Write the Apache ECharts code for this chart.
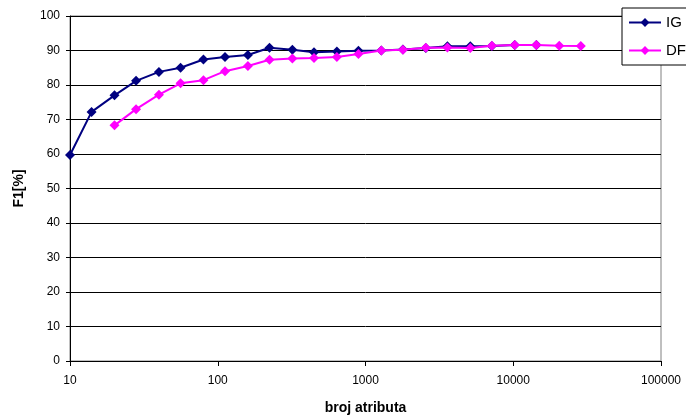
<!DOCTYPE html>
<html>
<head>
<meta charset="utf-8">
<script src="https://cdn.jsdelivr.net/npm/echarts@6/dist/echarts.min.js"></script>
<style>html,body{margin:0;padding:0;background:#fff}#c{width:686px;height:420px}</style>
</head>
<body>
<div id="c"></div>
<script>
const attrCounts = [10, 14, 20, 28, 40, 56, 80, 112, 160, 224, 320, 448, 640, 896, 1280, 1792, 2560, 3584, 5120, 7168, 10240, 14336, 20480, 28672];
const igValues = [59.7, 72.2, 77.0, 81.2, 83.8, 85.0, 87.4, 88.1, 88.7, 90.8, 90.2, 89.5, 89.7, 89.9, 90.0, 90.3, 90.7, 91.2, 91.2, 91.3, 91.6, 91.6];
const dfValues = [null, null, 68.3, 73.0, 77.2, 80.5, 81.4, 84.0, 85.5, 87.3, 87.7, 87.8, 88.1, 89.0, 90.0, 90.2, 90.8, 90.9, 90.7, 91.4, 91.6, 91.6, 91.4, 91.3];
const seriesNames = ['IG', 'DF'];
const yTicks = [0, 10, 20, 30, 40, 50, 60, 70, 80, 90, 100];

function pairs(vals) {
  const out = [];
  vals.forEach((v, i) => { if (v !== null && v !== undefined) out.push([attrCounts[i], v]); });
  return out;
}

const font = 'Liberation Sans, Arial, sans-serif';
const chart = echarts.init(document.getElementById('c'), null, {renderer: 'canvas'});
chart.setOption({
  animation: false,
  backgroundColor: '#ffffff',
  grid: {left: 70, right: 25, top: 16, bottom: 58, show: true, borderColor: '#808080', borderWidth: 1, backgroundColor: '#ffffff'},
  legend: {
    orient: 'vertical', left: 622, top: 8,
    backgroundColor: '#ffffff', borderColor: '#000000', borderWidth: 1,
    padding: [7, 6, 7, 6], itemGap: 13, itemWidth: 32, itemHeight: 11,
    textStyle: {fontFamily: font, fontSize: 15, color: '#000'},
    data: seriesNames
  },
  xAxis: {
    type: 'log', logBase: 10, min: 10, max: 100000,
    name: 'broj atributa', nameLocation: 'middle', nameGap: 40,
    nameTextStyle: {fontFamily: font, fontSize: 14, fontWeight: 'bold', color: '#000'},
    axisLine: {lineStyle: {color: '#000', width: 1}},
    axisTick: {show: true, inside: false, length: 5, lineStyle: {color: '#000'}},
    minorTick: {show: false},
    splitLine: {show: false},
    axisLabel: {fontFamily: font, fontSize: 12, color: '#000', margin: 14,
      formatter: v => String(Math.round(v))}
  },
  yAxis: {
    type: 'value', min: yTicks[0], max: yTicks[yTicks.length - 1], interval: 10,
    name: 'F1[%]', nameLocation: 'middle', nameGap: 44, nameRotate: 90,
    nameTextStyle: {fontFamily: font, fontSize: 14, fontWeight: 'bold', color: '#000'},
    axisLine: {show: true, lineStyle: {color: '#000', width: 1}},
    axisTick: {show: true, inside: false, length: 4, lineStyle: {color: '#000'}},
    splitLine: {show: true, lineStyle: {color: '#000', width: 1}},
    axisLabel: {fontFamily: font, fontSize: 12, color: '#000', margin: 10}
  },
  series: [
    {name: seriesNames[0], type: 'line', data: pairs(igValues), symbol: 'diamond', symbolSize: 10,
     itemStyle: {color: '#000080'}, lineStyle: {color: '#000080', width: 2}, z: 2},
    {name: seriesNames[1], type: 'line', data: pairs(dfValues), symbol: 'diamond', symbolSize: 10,
     itemStyle: {color: '#ff00ff'}, lineStyle: {color: '#ff00ff', width: 2}, z: 3}
  ]
});
</script>
</body>
</html>
